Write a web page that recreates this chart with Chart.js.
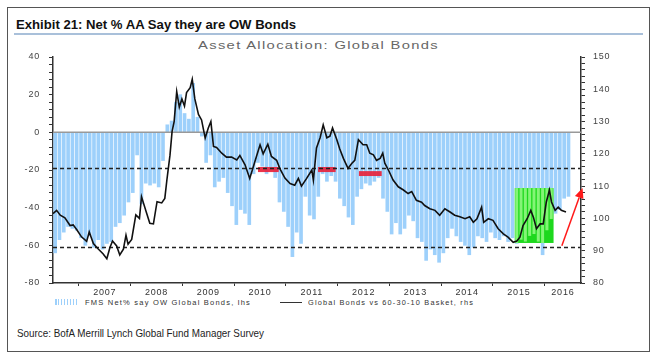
<!DOCTYPE html>
<html>
<head>
<meta charset="utf-8">
<script src="https://cdn.jsdelivr.net/npm/chart.js@4.4.1/dist/chart.umd.min.js"></script>
<style>
  html, body { margin: 0; padding: 0; background: #fff; }
  body { width: 657px; height: 360px; position: relative; overflow: hidden; font-family: "Liberation Sans", Arial, sans-serif; }
  #frame { position: absolute; left: 7px; top: 7px; width: 643px; height: 345px; border: 1.5px solid #555; box-sizing: border-box; }
  .txt { position: absolute; white-space: nowrap; transform-origin: 0 0; line-height: 1; }
  #title { left: 16px; top: 18px; font-size: 13px; font-weight: bold; color: #111; }
  #rule { position: absolute; left: 14px; top: 33px; width: 629px; height: 1.5px; background: #a9c0da; }
  #subtitle { left: 198px; top: 39.5px; font-size: 11px; color: #666; letter-spacing: 1px; }
  #source { left: 17px; top: 328px; font-size: 10.5px; color: #222; }
  .leg { top: 298.5px; font-size: 7.5px; color: #333; letter-spacing: 1.2px; }
  #legBarIcon { position: absolute; left: 55px; top: 299px; width: 22px; height: 6px;
    background: repeating-linear-gradient(90deg, #9dd0fb 0 1.5px, transparent 1.5px 3px); }
  #legLineIcon { position: absolute; left: 280px; top: 301.5px; width: 22px; height: 1.5px; background: #333; }
  #wrap { position: absolute; left: 0; top: 0; width: 657px; height: 360px; }
</style>
</head>
<body>
<div id="frame"></div>
<span class="txt" id="title">Exhibit 21: Net % AA Say they are OW Bonds</span>
<div id="rule"></div>
<span class="txt" id="subtitle">Asset Allocation: Global Bonds</span>
<div id="legBarIcon"></div>
<span class="txt leg" id="leg1" style="left:85px">FMS Net% say OW Global Bonds, lhs</span>
<div id="legLineIcon"></div>
<span class="txt leg" id="leg2" style="left:308px">Global Bonds vs 60-30-10 Basket, rhs</span>
<span class="txt" id="source">Source: BofA Merrill Lynch Global Fund Manager Survey</span>
<div id="wrap"><canvas id="myChart" width="657" height="360"></canvas></div>
<script>
// FMS net % overweight global bonds, monthly, Jul 2006 .. Jun 2016 (lhs)
const fmsValues = [
  -64, -57, -53, -50, -51, -52, -56, -60, -55, -61, -57, -62,
  -59, -58, -50, -48, -44, -37, -32, -12, -38, -27, -28, -27,
  -29, -15, 4, 6, 16, 20, 10, 7, 26, 8, -2, -16,
  -12, -29, -26, -24, -32, -39, -49, -41, -43, -49, -22, -16,
  -18, -22, -20, -24, -37, -42, -50, -66, -53, -59, -34, -44,
  -46, -34, -22, -26, -23, -26, -35, -39, -45, -49, -34, -30,
  -27, -28, -26, -24, -35, -42, -54, -48, -54, -51, -44, -47,
  -56, -58, -68, -62, -65, -69, -64, -56, -51, -55, -58, -60,
  -65, -61, -55, -56, -58, -53, -56, -57, -55, -58, -56, -59,
  -57, -58, -55, -54, -58, -65, -52, -46, -43, -41, -35, -34
];
const fmsStartYear = 2006;
const fmsStartMonth = 7;
const fmsMonths = fmsValues.map((v, i) => fmsStartYear + (fmsStartMonth - 1 + i + 0.5) / 12);

// Global bonds vs 60-30-10 basket (rhs)
const lineDates = [
  2006.50, 2006.57, 2006.64, 2006.73, 2006.83, 2006.89, 2006.96, 2007.05, 2007.15, 2007.20,
  2007.28, 2007.37, 2007.47, 2007.54, 2007.60, 2007.65, 2007.73, 2007.79, 2007.86, 2007.91,
  2007.95, 2008.02, 2008.10, 2008.17, 2008.21, 2008.30, 2008.37, 2008.44, 2008.51, 2008.60,
  2008.66, 2008.70, 2008.76, 2008.80, 2008.84, 2008.89, 2008.94, 2008.99, 2009.04, 2009.08,
  2009.15, 2009.19, 2009.24, 2009.31, 2009.37, 2009.44, 2009.50, 2009.55, 2009.60, 2009.66,
  2009.76, 2009.85, 2009.95, 2010.05, 2010.11, 2010.21, 2010.30, 2010.37, 2010.43, 2010.50,
  2010.56, 2010.65, 2010.72, 2010.82, 2010.88, 2010.98, 2011.08, 2011.17, 2011.24, 2011.30,
  2011.40, 2011.50, 2011.53, 2011.59, 2011.66, 2011.72, 2011.79, 2011.85, 2011.90, 2011.98,
  2012.04, 2012.11, 2012.17, 2012.20, 2012.27, 2012.33, 2012.40, 2012.49, 2012.56, 2012.62,
  2012.69, 2012.75, 2012.82, 2012.87, 2012.91, 2012.98, 2013.07, 2013.17, 2013.27, 2013.36,
  2013.43, 2013.52, 2013.62, 2013.68, 2013.78, 2013.88, 2013.97, 2014.07, 2014.17, 2014.26,
  2014.36, 2014.46, 2014.55, 2014.62, 2014.69, 2014.78, 2014.82, 2014.91, 2015.00, 2015.10,
  2015.20, 2015.29, 2015.39, 2015.46, 2015.52, 2015.58, 2015.66, 2015.73, 2015.78, 2015.84,
  2015.91, 2015.97, 2016.03, 2016.09, 2016.13, 2016.20, 2016.26, 2016.32, 2016.41
];
const lineValues = [
  101.5, 102.5, 101.0, 100.2, 97.8, 98.0, 96.5, 94.3, 92.9, 95.8,
  92.2, 90.6, 89.0, 87.5, 91.0, 93.0, 91.5, 88.7, 90.5, 94.8,
  92.0, 93.5, 101.1, 100.0, 106.7, 102.1, 98.5, 98.3, 105.2, 104.8,
  106.2, 111.9, 119.6, 126.9, 130.0, 139.3, 134.5, 137.0, 134.8, 139.0,
  140.5, 143.1, 137.0, 132.2, 130.5, 124.9, 128.0, 130.0, 122.3, 122.0,
  120.2, 119.0, 119.0, 118.1, 119.5, 116.6, 112.4, 116.0, 119.2, 122.8,
  120.0, 123.0, 119.2, 118.0, 115.5, 112.5, 110.8, 110.3, 112.4, 110.0,
  112.4, 115.0, 111.9, 121.8, 125.0, 129.0, 125.0, 125.5, 128.0, 124.5,
  121.5, 118.6, 116.5, 115.5, 117.0, 118.0, 124.4, 122.8, 122.8, 120.2,
  119.7, 118.0, 118.6, 120.2, 117.1, 115.0, 111.9, 109.8, 108.8, 107.7,
  108.3, 105.6, 105.0, 104.0, 103.0, 102.5, 101.0, 103.0, 102.0, 101.0,
  100.5, 99.9, 100.5, 98.8, 99.9, 103.5, 98.8, 99.9, 99.4, 96.8,
  95.2, 94.2, 92.6, 93.0, 94.2, 97.8, 99.9, 102.5, 100.4, 96.8,
  98.3, 98.3, 105.1, 108.8, 105.1, 102.5, 103.5, 102.5, 102.0
];

const yearLabels = ['2007', '2008', '2009', '2010', '2011', '2012', '2013', '2014', '2015', '2016'];
const xMin = 2006.5, xMax = 2016.7;

// annotations (data units)
const dashLevels = [-19, -61];            // lhs
const redBoxes = [                         // [from, to, top, bottom] lhs
  [2010.46, 2010.86, -18.4, -21.1],
  [2011.62, 2011.96, -18.4, -21.1],
  [2012.41, 2012.85, -20.6, -23.2]
];
const greenBox = [2015.42, 2016.17, 109.4, 92.4];  // rhs
const arrowFrom = [2016.33, 91.5];                  // rhs
const arrowTo = [2016.73, 109.4];

// x ticks: marks at year boundaries, labels mid-year (2016 centred in the part shown)
const xTickDefs = [];
yearLabels.forEach((y, i) => {
  const yr = Number(y);
  xTickDefs.push({ value: yr, label: '' });
  const mid = i === yearLabels.length - 1 ? (yr + xMax) / 2 : yr + 0.5;
  xTickDefs.push({ value: mid, label: y });
});
xTickDefs.sort((a, b) => a.value - b.value);

const spacing = {
  id: 'spacing',
  beforeLayout(chart) { chart.ctx.letterSpacing = '0.8px'; },
  beforeDraw(chart) { chart.ctx.letterSpacing = '0.8px'; }
};

const overlays = {
  id: 'overlays',
  beforeDatasetDraw(chart, args) {
    if (args.meta.type !== 'line') return;
    const ctx = chart.ctx;
    const xs = chart.scales.x, ys = chart.scales.y, y1s = chart.scales.y1;
    const area = chart.chartArea;
    ctx.save();

    // green box + bars inside it
    const gx0 = xs.getPixelForValue(greenBox[0]), gx1 = xs.getPixelForValue(greenBox[1]);
    const gy0 = y1s.getPixelForValue(greenBox[2]), gy1 = y1s.getPixelForValue(greenBox[3]);
    ctx.fillStyle = '#1ed81e';
    ctx.fillRect(gx0, gy0, gx1 - gx0, gy1 - gy0);
    ctx.fillStyle = '#84f576';
    chart.getDatasetMeta(0).data.forEach(el => {
      const l = Math.max(el.x - el.width / 2, gx0), r = Math.min(el.x + el.width / 2, gx1);
      const t = Math.max(Math.min(el.y, el.base), gy0), b = Math.min(Math.max(el.y, el.base), gy1);
      if (r > l && b > t) ctx.fillRect(l, t, r - l, b - t);
    });

    // zero line
    ctx.strokeStyle = '#999';
    ctx.lineWidth = 1.5;
    ctx.beginPath();
    ctx.moveTo(area.left, ys.getPixelForValue(0));
    ctx.lineTo(area.right, ys.getPixelForValue(0));
    ctx.stroke();

    // red markers
    ctx.fillStyle = 'rgba(232, 30, 55, 0.9)';
    redBoxes.forEach(b => {
      const x0 = xs.getPixelForValue(b[0]), x1 = xs.getPixelForValue(b[1]);
      const y0 = ys.getPixelForValue(b[2]), y1 = ys.getPixelForValue(b[3]);
      ctx.fillRect(x0, y0, x1 - x0, y1 - y0);
    });

    // dashed levels
    ctx.strokeStyle = '#222';
    ctx.lineWidth = 1.3;
    ctx.setLineDash([4, 3]);
    dashLevels.forEach(v => {
      const y = Math.round(ys.getPixelForValue(v)) + 0.5;
      ctx.beginPath();
      ctx.moveTo(area.left, y);
      ctx.lineTo(area.right, y);
      ctx.stroke();
    });
    ctx.restore();
  },
  afterDatasetsDraw(chart) {
    const ctx = chart.ctx;
    const xs = chart.scales.x, y1s = chart.scales.y1;
    const x0 = xs.getPixelForValue(arrowFrom[0]), y0 = y1s.getPixelForValue(arrowFrom[1]);
    const x1 = xs.getPixelForValue(arrowTo[0]), y1 = y1s.getPixelForValue(arrowTo[1]);
    const ang = Math.atan2(y1 - y0, x1 - x0);
    const len = 10, half = 4.5;
    const bx = x1 - len * Math.cos(ang), by = y1 - len * Math.sin(ang);
    ctx.save();
    ctx.strokeStyle = '#ff1a1a';
    ctx.fillStyle = '#ff1a1a';
    ctx.lineWidth = 1.5;
    ctx.beginPath();
    ctx.moveTo(x0, y0);
    ctx.lineTo(bx, by);
    ctx.stroke();
    ctx.beginPath();
    ctx.moveTo(x1, y1);
    ctx.lineTo(bx + half * Math.sin(ang), by - half * Math.cos(ang));
    ctx.lineTo(bx - half * Math.sin(ang), by + half * Math.cos(ang));
    ctx.closePath();
    ctx.fill();
    ctx.restore();
  }
};

const tickFont = { family: 'Liberation Sans', size: 9 };

new Chart(document.getElementById('myChart'), {
  type: 'bar',
  data: {
    datasets: [{
      type: 'bar',
      label: 'FMS Net% say OW Global Bonds, lhs',
      data: fmsMonths.map((m, i) => ({ x: m, y: fmsValues[i] })),
      backgroundColor: '#9dd0fb',
      borderWidth: 0,
      barThickness: 3,
      yAxisID: 'y',
      order: 1
    }, {
      type: 'line',
      label: 'Global Bonds vs 60-30-10 Basket, rhs',
      data: lineDates.map((d, i) => ({ x: d, y: lineValues[i] })),
      borderColor: '#111',
      borderWidth: 1.6,
      pointRadius: 0,
      tension: 0,
      yAxisID: 'y1',
      order: 0
    }]
  },
  options: {
    responsive: false,
    devicePixelRatio: 1,
    animation: false,
    layout: { padding: { top: 57, bottom: 61, left: 0, right: 0 } },
    plugins: { legend: { display: false }, tooltip: { enabled: false } },
    scales: {
      x: {
        type: 'linear',
        offset: false,
        min: xMin,
        max: xMax,
        afterBuildTicks: axis => { axis.ticks = xTickDefs.map(t => ({ value: t.value })); },
        afterFit: axis => { axis.height = 16; },
        grid: {
          offset: false,
          drawOnChartArea: false,
          tickLength: 3,
          tickColor: c => (xTickDefs[c.index] && xTickDefs[c.index].label) ? 'rgba(0,0,0,0)' : '#333'
        },
        border: { color: '#333', width: 1.5 },
        ticks: {
          autoSkip: false,
          maxRotation: 0,
          padding: 1,
          font: tickFont,
          color: '#333',
          callback: (v, i) => xTickDefs[i] ? xTickDefs[i].label : ''
        }
      },
      y: {
        position: 'left',
        min: -80,
        max: 40,
        afterFit: axis => { axis.width = 53; },
        grid: { drawOnChartArea: false, tickLength: 4, tickColor: '#333' },
        border: { color: '#333', width: 1.5 },
        ticks: {
          stepSize: 4,
          autoSkip: false,
          padding: 9,
          font: tickFont,
          color: '#444',
          callback: v => (v % 20 === 0 ? String(v) : '')
        }
      },
      y1: {
        position: 'right',
        min: 80,
        max: 150,
        afterFit: axis => { axis.width = 76; },
        grid: { drawOnChartArea: false, tickLength: 4, tickColor: '#333' },
        border: { color: '#333', width: 1.5 },
        ticks: {
          stepSize: 2,
          autoSkip: false,
          padding: 8,
          font: tickFont,
          color: '#444',
          callback: v => (v % 10 === 0 ? String(v) : '')
        }
      }
    }
  },
  plugins: [spacing, overlays]
});

// squeeze the page texts to the widths seen in the exhibit
function fitWidth(id, target) {
  const el = document.getElementById(id);
  const w = el.getBoundingClientRect().width;
  if (w > 0) el.style.transform = 'scaleX(' + (target / w) + ')';
}
fitWidth('title', 280);
fitWidth('subtitle', 241);
fitWidth('leg1', 166);
fitWidth('leg2', 166);
fitWidth('source', 247);
</script>
</body>
</html>
